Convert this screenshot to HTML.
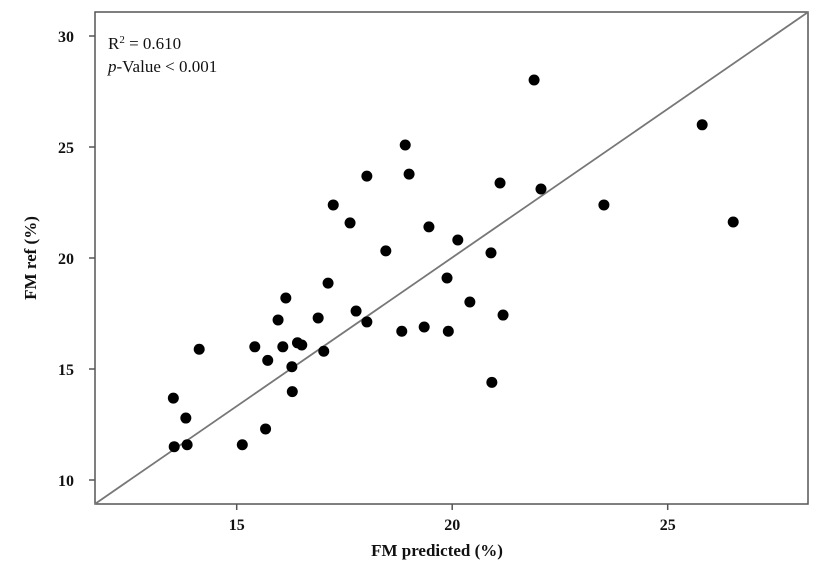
<!DOCTYPE html>
<html><head><meta charset="utf-8"><style>
body{margin:0;background:#fff;}
svg text{font-family:"Liberation Serif",serif;fill:#111;}
</style></head><body>
<svg id="chart" width="824" height="572">
<rect x="95" y="12" width="713" height="492" fill="#fff" stroke="#555" stroke-width="1.5"/>
<g id="ticks"></g>
<g id="pts"></g>
<text x="108" y="49" font-size="17">R<tspan font-size="11" dy="-6">2</tspan><tspan dy="6"> = 0.610</tspan></text>
<text x="108" y="72" font-size="17"><tspan font-style="italic">p</tspan>-Value &lt; 0.001</text>
<text x="437" y="556" font-size="17" font-weight="bold" text-anchor="middle">FM predicted (%)</text>
<text x="0" y="0" font-size="17" font-weight="bold" text-anchor="middle" transform="translate(36,258) rotate(-90)">FM ref (%)</text>
</svg>
<script>
const xs=[13.53,13.82,14.13,13.55,13.85,15.13,15.42,15.72,15.67,16.07,16.28,16.29,16.41,16.51,17.02,18.83,19.91,20.92,15.96,16.14,16.89,17.12,17.24,17.63,17.77,18.02,18.02,18.46,18.91,19.0,19.35,19.46,19.88,20.13,20.41,20.9,21.11,21.18,21.9,22.06,23.52,25.8,26.52];
const ys=[13.69,12.79,15.89,11.5,11.59,11.59,16.0,15.39,12.3,16.0,15.1,13.98,16.18,16.08,15.8,16.7,16.7,14.4,17.21,18.2,17.3,18.87,22.39,21.58,17.61,23.69,17.12,20.32,25.09,23.78,16.89,21.4,19.1,20.81,18.02,20.23,23.38,17.43,28.02,23.11,22.39,26.0,21.62];
const xTicks=[15,20,25];
const yTicks=[10,15,20,25,30];
const fitLine=[[11.71,8.92],[28.26,31.08]];
const X=v=>236.7+(v-15)*43.1, Y=v=>480-(v-10)*22.2;
const NS="http://www.w3.org/2000/svg";
const tg=document.getElementById('ticks'), pg=document.getElementById('pts');
function mk(tag,a,p){const e=document.createElementNS(NS,tag);for(const k in a)e.setAttribute(k,a[k]);p.appendChild(e);return e;}
xTicks.forEach(t=>{
  const l=mk('line',{x1:X(t),x2:X(t),y1:504,y2:510,stroke:'#555','stroke-width':1.5},tg);
  
  
  const s=mk('text',{x:X(t),y:530,'font-size':16,'font-weight':'bold','text-anchor':'middle'},tg);
  s.textContent=t;
  
  
});
yTicks.forEach(t=>{
  const l=mk('line',{x1:89,x2:95,y1:Y(t),y2:Y(t),stroke:'#555','stroke-width':1.5},tg);
  
  
  const s=mk('text',{x:74,y:Y(t)+6,'font-size':16,'font-weight':'bold','text-anchor':'end'},tg);
  s.textContent=t;
  
  
});
const ln=mk('line',{x1:X(fitLine[0][0]),y1:Y(fitLine[0][1]),x2:X(fitLine[1][0]),y2:Y(fitLine[1][1]),stroke:'#777','stroke-width':1.8},pg);


xs.forEach((x,i)=>{
  const c=mk('circle',{cx:X(x),cy:Y(ys[i]),r:5.5,fill:'#000'},pg);
  
  
});
</script>
</body></html>
